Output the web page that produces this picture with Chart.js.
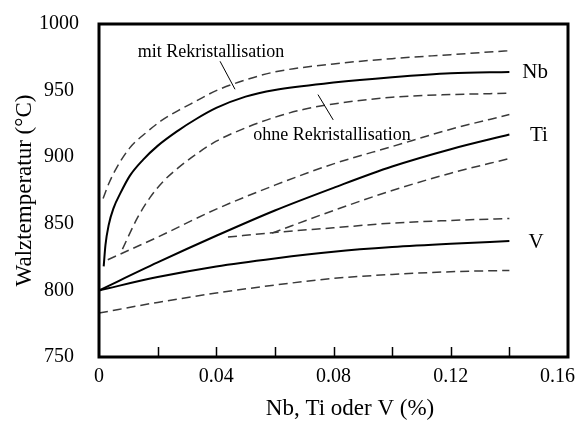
<!DOCTYPE html>
<html>
<head>
<meta charset="utf-8">
<script src="https://cdn.jsdelivr.net/npm/chart.js@4.4.1/dist/chart.umd.min.js"></script>
<style>
  html, body { margin: 0; padding: 0; background: #fff; }
  #wrap { width: 580px; height: 426px; }
</style>
</head>
<body>
<div id="wrap"><canvas id="chart" width="580" height="426"></canvas></div>
<script>
// curves: x in %, y in °C
const nbX   = [0.0016, 0.0022, 0.0033, 0.005, 0.0073, 0.0105, 0.015, 0.02, 0.027, 0.033, 0.04, 0.05, 0.06, 0.08, 0.10, 0.12, 0.14];
const nbY   = [818, 834, 849, 862, 873, 886, 898, 908.5, 920, 928.5, 937, 945.5, 950.5, 956, 960, 963, 964];
const nbHiX = [0.0014, 0.0035, 0.006, 0.0105, 0.0164, 0.021, 0.027, 0.033, 0.04, 0.05, 0.06, 0.08, 0.10, 0.12, 0.14];
const nbHiY = [869, 881, 892, 907, 919, 927, 935, 942, 950, 958, 964, 970, 974, 977, 980];
const nbLoX = [0.008, 0.013, 0.0175, 0.022, 0.027, 0.033, 0.04, 0.05, 0.06, 0.07, 0.08, 0.10, 0.12, 0.14];
const nbLoY = [831, 854, 870, 882, 892, 902, 912, 922, 930, 936, 940, 945, 947, 948];

const tiX   = [0, 0.02, 0.04, 0.06, 0.08, 0.10, 0.12, 0.14];
const tiY   = [800, 821, 841, 860, 877, 893, 906, 917];
const tiHiX = [0.003, 0.02, 0.04, 0.06, 0.08, 0.10, 0.12, 0.14];
const tiHiY = [823, 840, 861, 879, 895, 908, 921, 932];
const tiLoX = [0.059, 0.08, 0.10, 0.12, 0.14];
const tiLoY = [843, 860, 875, 888, 899];

const vX    = [0, 0.02, 0.04, 0.06, 0.08, 0.10, 0.12, 0.14];
const vY    = [800, 810, 818, 824, 829, 832.5, 835, 837];
const vHiX  = [0.044, 0.06, 0.08, 0.10, 0.12, 0.14];
const vHiY  = [840, 843.5, 847, 850.5, 852.5, 854];
const vLoX  = [0, 0.02, 0.04, 0.06, 0.08, 0.10, 0.12, 0.14];
const vLoY  = [783, 791, 798, 804, 809, 812, 814, 815];

const xTickMarks  = [0.02, 0.04, 0.06, 0.08, 0.10, 0.12, 0.14];
const xTickLabels = ['0', '0.04', '0.08', '0.12', '0.16'];
const xLabelVals  = [0, 0.04, 0.08, 0.12, 0.16];

const seriesNames = ['Nb', 'Ti', 'V'];
const seriesEnds  = [964, 917, 837];

const notes = [
  { text: 'mit Rekristallisation', x: 0.0382, y: 979, from: [0.0413, 972], to: [0.0464, 951], align: 'center' },
  { text: 'ohne Rekristallisation', x: 0.0526, y: 916.5, from: [0.0747, 947], to: [0.0799, 928], align: 'left' }
];

const serif = '"Liberation Serif", "Times New Roman", serif';

function pts(xs, ys) {
  return xs.map((x, i) => ({ x, y: ys[i] }));
}

function curve(xs, ys, dashed) {
  return {
    data: pts(xs, ys),
    borderColor: dashed ? '#3a3a3a' : '#000',
    borderWidth: dashed ? 1.5 : 2,
    borderDash: dashed ? [9, 5] : [],
    pointRadius: 0,
    cubicInterpolationMode: 'monotone',
    fill: false
  };
}

// frame, inner ticks, x labels, curve names and notes
const decorations = {
  id: 'decorations',
  afterDraw(chart) {
    const { ctx, chartArea: a, scales: { x, y } } = chart;
    ctx.save();
    ctx.strokeStyle = '#000';
    ctx.lineWidth = 3;
    ctx.strokeRect(a.left, a.top, a.right - a.left, a.bottom - a.top);

    ctx.lineWidth = 1.5;
    xTickMarks.forEach(v => {
      const px = Math.round(x.getPixelForValue(v)) + 0.5;
      ctx.beginPath();
      ctx.moveTo(px, a.bottom);
      ctx.lineTo(px, a.bottom - 10);
      ctx.stroke();
    });

    ctx.fillStyle = '#000';
    ctx.font = '20px ' + serif;
    ctx.textAlign = 'center';
    ctx.textBaseline = 'middle';
    xLabelVals.forEach((v, i) => {
      const w = ctx.measureText(xTickLabels[i]).width;
      const px = Math.min(x.getPixelForValue(v), 575 - w / 2);
      ctx.fillText(xTickLabels[i], px, 377);
    });

    ctx.font = '23px ' + serif;
    ctx.fillText('Nb, Ti oder V (%)', 350, 409);

    ctx.font = '21px ' + serif;
    ctx.textAlign = 'left';
    const nameX = [0.1444, 0.147, 0.1465];
    seriesNames.forEach((n, i) => {
      ctx.fillText(n, x.getPixelForValue(nameX[i]), y.getPixelForValue(seriesEnds[i]) + 1);
    });

    ctx.font = '18px ' + serif;
    ctx.lineWidth = 1;
    notes.forEach(n => {
      ctx.textAlign = n.align;
      ctx.fillText(n.text, x.getPixelForValue(n.x), y.getPixelForValue(n.y));
      ctx.beginPath();
      ctx.moveTo(x.getPixelForValue(n.from[0]), y.getPixelForValue(n.from[1]));
      ctx.lineTo(x.getPixelForValue(n.to[0]), y.getPixelForValue(n.to[1]));
      ctx.stroke();
    });
    ctx.restore();
  }
};

new Chart(document.getElementById('chart'), {
  type: 'line',
  data: {
    datasets: [
      curve(nbHiX, nbHiY, true),
      curve(nbX, nbY, false),
      curve(nbLoX, nbLoY, true),
      curve(tiHiX, tiHiY, true),
      curve(tiX, tiY, false),
      curve(tiLoX, tiLoY, true),
      curve(vHiX, vHiY, true),
      curve(vX, vY, false),
      curve(vLoX, vLoY, true)
    ]
  },
  options: {
    responsive: false,
    animation: false,
    layout: { padding: { top: 21, right: 12, left: 0, bottom: 0 } },
    plugins: {
      legend: { display: false },
      tooltip: { enabled: false }
    },
    scales: {
      x: {
        type: 'linear',
        min: 0,
        max: 0.16,
        grid: { display: false },
        border: { display: false },
        ticks: { display: false },
        afterFit: s => { s.height = 69; }
      },
      y: {
        min: 750,
        max: 1000,
        grid: { display: false },
        border: { display: false },
        ticks: {
          stepSize: 50,
          color: '#000',
          padding: 12,
          crossAlign: 'center',
          font: { family: serif, size: 20 },
          callback: v => String(v)
        },
        title: {
          display: true,
          text: 'Walztemperatur (°C)',
          color: '#000',
          padding: { top: 11, bottom: 0 },
          font: { family: serif, size: 23 }
        },
        afterFit: s => { s.width = 99; }
      }
    }
  },
  plugins: [decorations]
});
</script>
</body>
</html>
